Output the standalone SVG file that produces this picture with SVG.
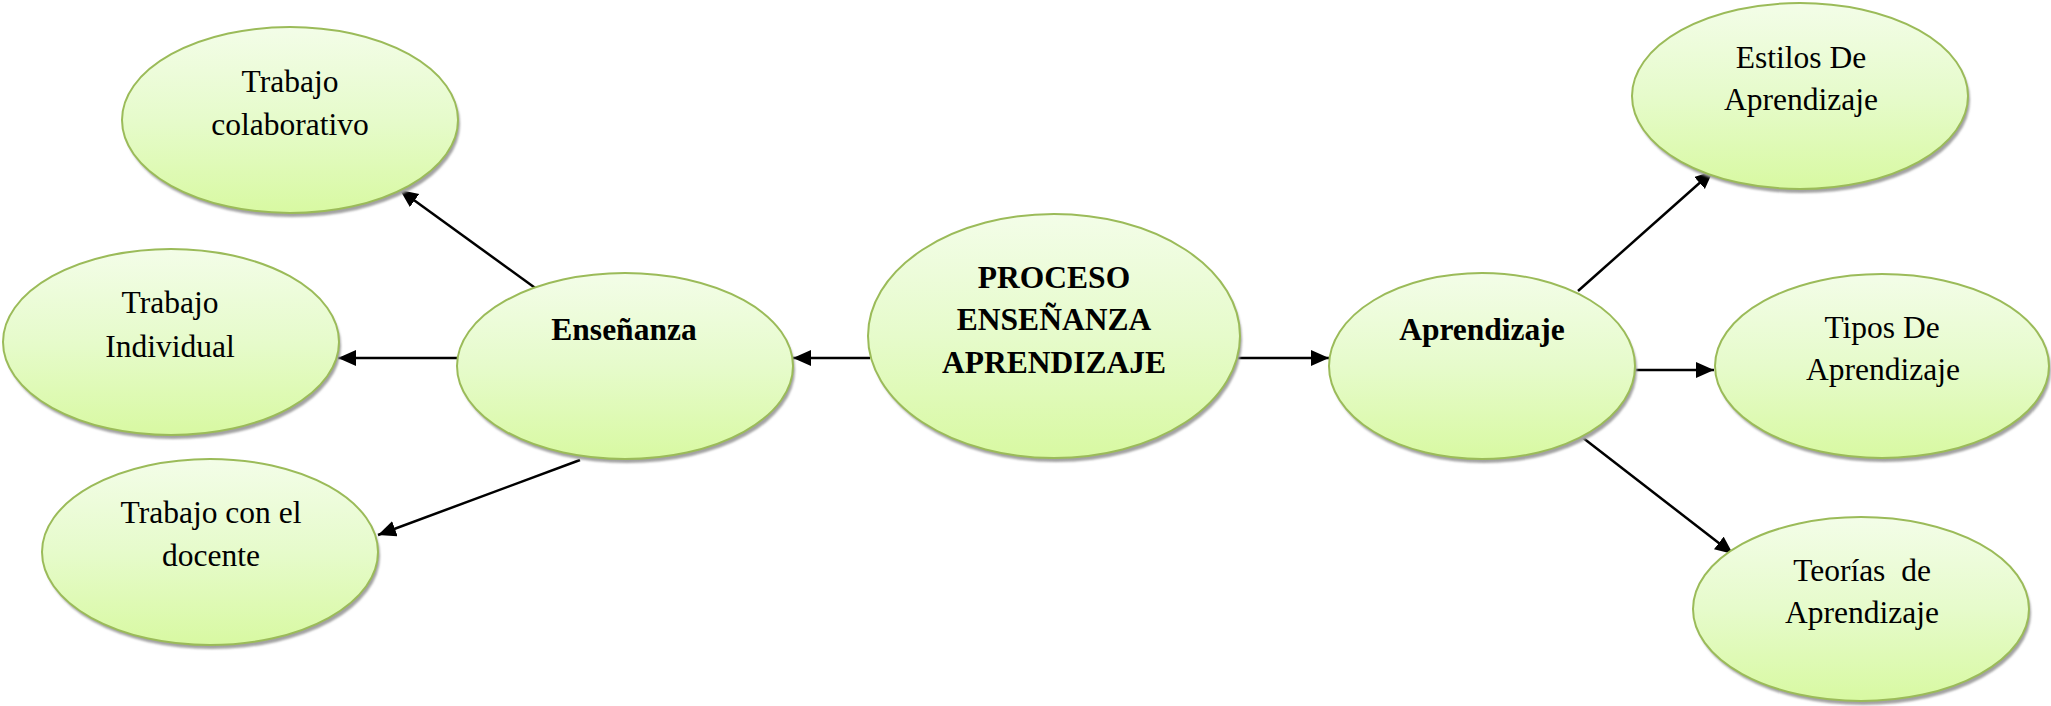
<svg xmlns="http://www.w3.org/2000/svg" width="2051" height="706" viewBox="0 0 2051 706">
<defs>
<linearGradient id="g" x1="0" y1="0" x2="0" y2="1">
<stop offset="0" stop-color="#f3fde8"/>
<stop offset="0.5" stop-color="#e6fbcb"/>
<stop offset="1" stop-color="#d8f9a2"/>
</linearGradient>
<marker id="ah" markerUnits="userSpaceOnUse" markerWidth="19" markerHeight="17" refX="18" refY="8" orient="auto">
<path d="M0,0 L18,8 L0,16 z" fill="#000"/>
</marker>
<filter id="blur" x="-5%" y="-5%" width="110%" height="110%"><feGaussianBlur stdDeviation="0.8"/></filter>
</defs>
<style>
.sh{fill:#a2a2a2;filter:url(#blur)}
.nd{fill:url(#g);stroke:#9bbb59;stroke-width:2}
.t{font-family:"Liberation Serif","Times New Roman",serif;font-size:31.5px;fill:#000;text-anchor:middle}
.b{font-weight:bold}
.c{stroke:#000;stroke-width:2.5;fill:none;marker-end:url(#ah)}
</style>
<rect width="2051" height="706" fill="#fff"/>
<g id="connectors">
<line class="c" x1="870" y1="358" x2="793" y2="358"/>
<line class="c" x1="1238" y1="358" x2="1329" y2="358"/>
<line class="c" x1="538" y1="290" x2="400" y2="190"/>
<line class="c" x1="457" y1="358" x2="338" y2="358"/>
<line class="c" x1="580" y1="460" x2="378" y2="535"/>
<line class="c" x1="1578" y1="291" x2="1713" y2="171"/>
<line class="c" x1="1633" y1="370" x2="1714" y2="370"/>
<line class="c" x1="1578" y1="434" x2="1733" y2="554"/>
</g>
<g id="n-central">
<ellipse class="sh" cx="1056" cy="340" rx="186" ry="122"/>
<ellipse class="nd" cx="1054" cy="336" rx="186" ry="122"/>
<text class="t b" x="1054" y="288">PROCESO</text>
<text class="t b" x="1054" y="330">ENSEÑANZA</text>
<text class="t b" x="1054" y="373">APRENDIZAJE</text>
</g>
<g id="n-ensenanza">
<ellipse class="sh" cx="627" cy="370" rx="168" ry="93"/>
<ellipse class="nd" cx="625" cy="366" rx="168" ry="93"/>
<text class="t b" x="624" y="340">Enseñanza</text>
</g>
<g id="n-aprendizaje">
<ellipse class="sh" cx="1484" cy="370" rx="153" ry="93"/>
<ellipse class="nd" cx="1482" cy="366" rx="153" ry="93"/>
<text class="t b" x="1482" y="340">Aprendizaje</text>
</g>
<g id="n-colaborativo">
<ellipse class="sh" cx="292" cy="124" rx="168" ry="93"/>
<ellipse class="nd" cx="290" cy="120" rx="168" ry="93"/>
<text class="t" x="290" y="92">Trabajo</text>
<text class="t" x="290" y="135">colaborativo</text>
</g>
<g id="n-individual">
<ellipse class="sh" cx="173" cy="346" rx="168" ry="93"/>
<ellipse class="nd" cx="171" cy="342" rx="168" ry="93"/>
<text class="t" x="170" y="313">Trabajo</text>
<text class="t" x="170" y="357">Individual</text>
</g>
<g id="n-docente">
<ellipse class="sh" cx="212" cy="556" rx="168" ry="93"/>
<ellipse class="nd" cx="210" cy="552" rx="168" ry="93"/>
<text class="t" x="211" y="523">Trabajo con el</text>
<text class="t" x="211" y="566">docente</text>
</g>
<g id="n-estilos">
<ellipse class="sh" cx="1802" cy="100" rx="168" ry="93"/>
<ellipse class="nd" cx="1800" cy="96" rx="168" ry="93"/>
<text class="t" x="1801" y="68">Estilos De</text>
<text class="t" x="1801" y="110">Aprendizaje</text>
</g>
<g id="n-tipos">
<ellipse class="sh" cx="1884" cy="370" rx="167" ry="92"/>
<ellipse class="nd" cx="1882" cy="366" rx="167" ry="92"/>
<text class="t" x="1882" y="338">Tipos De</text>
<text class="t" x="1883" y="380">Aprendizaje</text>
</g>
<g id="n-teorias">
<ellipse class="sh" cx="1863" cy="613" rx="168" ry="92"/>
<ellipse class="nd" cx="1861" cy="609" rx="168" ry="92"/>
<text class="t" x="1862" y="581" xml:space="preserve">Teorías  de</text>
<text class="t" x="1862" y="623">Aprendizaje</text>
</g>
</svg>
